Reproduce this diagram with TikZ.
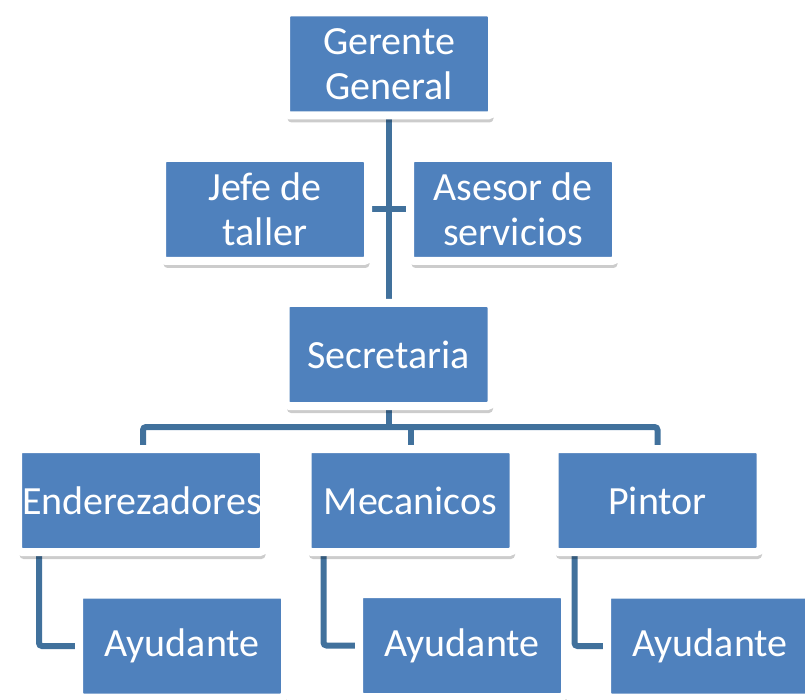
\documentclass[tikz,border=0pt]{standalone}
\usepackage{fontspec}
\setmainfont{Carlito}
\usetikzlibrary{shadows,calc,backgrounds}
\definecolor{boxblue}{HTML}{4F81BD}
\definecolor{linkblue}{HTML}{41719C}
\begin{document}
\begin{tikzpicture}[x=1pt,y=-1pt,
  orgbox/.style={rectangle, fill=boxblue, draw=white, line width=8pt,
    rounded corners=4pt, inner sep=0pt, minimum width=206pt, minimum height=103pt,
    text=white, font=\fontsize{40}{45}\selectfont, align=center,
    general shadow={fill=black, opacity=0.2, shadow yshift=-7pt, shadow xshift=1.5pt}},
  boxtext/.style={text=white, font=\fontsize{40}{45}\selectfont, inner sep=0pt},
  link/.style={draw=linkblue, line width=6pt, rounded corners=3pt}]
\useasboundingbox (0,0) rectangle (805,700);
\coordinate (busy) at (0,427);
\node[orgbox] (gg) at (389,64) {Gerente\\General};
\node[orgbox] (jefe) at (265,209.5) {Jefe de\\taller};
\node[orgbox] (asesor) at (513,209.5) {Asesor de\\servicios};
\node[orgbox] (sec) at (388.5,354.5) {Secretaria};
\node[orgbox, minimum width=246pt,
  path picture={\node[boxtext, anchor=west] at ($(path picture bounding box.west)+(-3,0)$) {Enderezadores};}]
  (ender) at (141,500.5) {};
\node[orgbox] (mec) at (410.5,500.5) {Mecanicos};
\node[orgbox] (pintor) at (657.5,500.5) {Pintor};
\node[orgbox] (ay1) at (182,646) {Ayudante};
\node[orgbox] (ay2) at (462,645.5) {Ayudante};
\node[orgbox] (ay3) at (710,646) {Ayudante};
\begin{scope}[on background layer]
  \draw[link] (gg.south) -- (gg.south |- sec.north);
  \draw[link] (jefe.east) -- (asesor.west);
  \draw[link] (sec.south) -- (sec.south |- busy);
  \draw[link] ($(ender.north)+(2,0)$) |- (busy -| pintor.north) -- (pintor.north);
  \draw[link] (mec.north) -- (mec.north |- busy);
  \draw[link] ($(ender.south west)+(25,0)$) |- (ay1.west);
  \draw[link] ($(mec.south west)+(20,0)$) |- (ay2.west);
  \draw[link] ($(pintor.south west)+(24,0)$) |- (ay3.west);
\end{scope}
\end{tikzpicture}
\end{document}
